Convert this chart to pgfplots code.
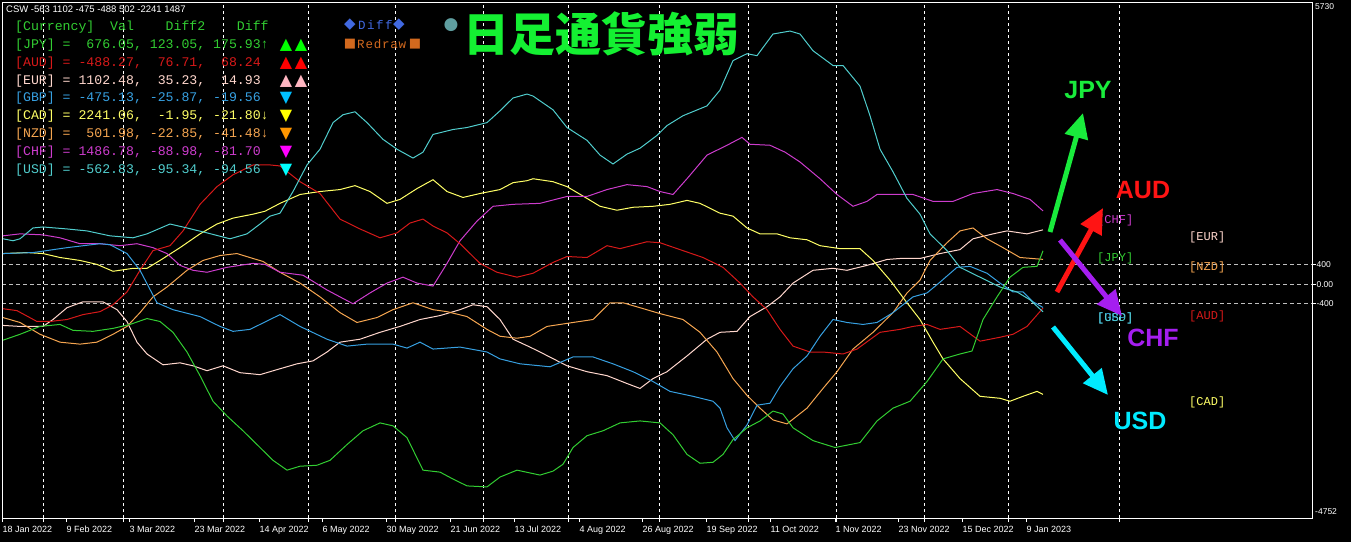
\documentclass[border=0pt]{standalone}
\usepackage{pgfplots}
\pgfplotsset{compat=1.18}
\usepackage{fontspec}
\setmainfont{Liberation Sans}
\newfontfamily\mono{Liberation Mono}
\newfontfamily\sym{DejaVu Sans}
\newfontfamily\cjk{Noto Sans CJK JP}
\usetikzlibrary{arrows.meta}

\definecolor{cJPY}{RGB}{50,205,50}
\definecolor{cAUD}{RGB}{215,25,25}
\definecolor{cEUR}{RGB}{255,215,205}
\definecolor{cGBP}{RGB}{55,160,225}
\definecolor{cCAD}{RGB}{255,255,102}
\definecolor{cNZD}{RGB}{245,165,80}
\definecolor{cCHF}{RGB}{205,60,205}
\definecolor{cUSD}{RGB}{80,205,205}
\definecolor{tJPY}{RGB}{0,255,0}
\definecolor{tAUD}{RGB}{255,0,0}
\definecolor{tEUR}{RGB}{255,182,193}
\definecolor{tGBP}{RGB}{0,191,255}
\definecolor{tCAD}{RGB}{255,255,0}
\definecolor{tNZD}{RGB}{255,150,0}
\definecolor{tCHF}{RGB}{255,0,255}
\definecolor{tUSD}{RGB}{0,255,255}
\definecolor{titlegreen}{RGB}{20,240,50}
\definecolor{aGreen}{RGB}{25,235,60}
\definecolor{aRed}{RGB}{255,20,20}
\definecolor{aPurple}{RGB}{165,30,240}
\definecolor{aCyan}{RGB}{0,235,255}
\definecolor{royal}{RGB}{65,105,225}
\definecolor{choco}{RGB}{210,105,30}
\definecolor{cadet}{RGB}{95,158,160}

\newcommand\legfont{\mono\fontsize{13.2}{14}\selectfont}
\newcommand\smallmono{\mono\fontsize{12}{13}\selectfont}
\newcommand\bigbold{\fontsize{25}{26}\selectfont\bfseries}

\begin{document}
\begin{tikzpicture}[x=1pt,y=1pt]
\fill[black] (0,0) rectangle (1351,542);
\useasboundingbox (0,0) rectangle (1351,542);
\begin{axis}[
  at={(2pt,24pt)}, anchor=south west,
  scale only axis, width=1310pt, height=516pt,
  xmin=2, xmax=1312, ymin=-4752, ymax=5730,
  axis line style={white, line width=0.8pt},
  tick align=outside, major tick length=4pt,
  tick style={white, line width=0.8pt},
  xtick pos=left,
  xtick={2,66,129,194,259,322,386,450,514,579,642,706,770,835,898,962,1026},
  xticklabels={18 Jan 2022,9 Feb 2022,3 Mar 2022,23 Mar 2022,14 Apr 2022,6 May 2022,30 May 2022,21 Jun 2022,13 Jul 2022,4 Aug 2022,26 Aug 2022,19 Sep 2022,11 Oct 2022,1 Nov 2022,23 Nov 2022,15 Dec 2022,9 Jan 2023},
  xticklabel style={anchor=north west, text=white, font=\fontsize{9}{10}\selectfont, text height=7pt, text depth=2pt, xshift=-3pt, yshift=0pt},
  extra x ticks={43,123,223,308,395,483,568,659,748,836,924,1008,1119},
  extra x tick labels={},
  extra x tick style={grid=major, major grid style={white, line width=0.8pt, dash pattern=on 3pt off 3pt}},
  ytick={-400,0,400}, yticklabels={-400,0.00,400},
  ytick pos=right, yticklabel pos=right,
  scaled y ticks=false,
  yticklabel style={text=white, font=\fontsize{8.5}{9}\selectfont, anchor=west, xshift=-3pt},
  ymajorgrids=true,
  major grid style={color=white!75!black, line width=0.8pt, dash pattern=on 4pt off 3pt},
  every axis plot/.append style={line width=1pt, mark=none},
]
% EUR
\addplot[cEUR] coordinates {(3,-840)(20,-860)(43,-860)(53,-720)(67,-480)(83,-360)(103,-360)(117,-520)(127,-760)(137,-1180)(147,-1420)(163,-1640)(180,-1600)(193,-1660)(207,-1760)(223,-1660)(240,-1800)(260,-1840)(280,-1720)(297,-1620)(313,-1560)(327,-1380)(340,-1180)(360,-1120)(380,-980)(400,-860)(420,-720)(440,-640)(460,-520)(473,-420)(487,-460)(500,-720)(513,-1120)(530,-1280)(540,-1380)(567,-1660)(587,-1780)(607,-1860)(627,-2020)(640,-2120)(653,-1920)(667,-1780)(687,-1460)(707,-1120)(720,-980)(737,-960)(750,-660)(767,-460)(780,-260)(793,20)(813,280)(833,320)(847,280)(867,380)(887,500)(900,520)(920,520)(940,620)(960,700)(973,920)(993,1020)(1007,1080)(1027,1020)(1043,1102)};
% NZD
\addplot[cNZD] coordinates {(3,-680)(20,-780)(40,-1020)(60,-1180)(80,-1220)(97,-1180)(113,-1020)(127,-860)(140,-580)(153,-260)(167,-60)(187,280)(203,480)(220,580)(237,620)(253,520)(263,460)(280,240)(300,20)(320,-260)(340,-580)(357,-780)(377,-680)(393,-520)(413,-380)(433,-520)(447,-560)(467,-660)(487,-920)(500,-1060)(517,-1100)(530,-1060)(547,-860)(573,-780)(593,-720)(610,-380)(623,-380)(640,-480)(660,-600)(683,-720)(700,-980)(717,-1380)(733,-1920)(747,-2260)(760,-2520)(773,-2760)(787,-2840)(807,-2520)(823,-2120)(837,-1780)(853,-1320)(873,-980)(893,-580)(907,-180)(920,80)(930,480)(947,840)(960,1080)(973,1140)(987,920)(1003,740)(1020,540)(1043,502)};
% CAD
\addplot[cCAD] coordinates {(3,620)(27,640)(43,620)(60,540)(80,480)(97,400)(113,260)(133,320)(147,320)(160,480)(180,740)(200,1020)(217,1220)(233,1340)(253,1420)(265,1480)(280,1640)(300,1820)(320,1880)(340,1920)(355,2000)(370,1880)(387,1640)(400,1720)(417,1940)(433,2120)(447,1880)(463,1760)(480,1840)(500,1920)(513,2060)(527,2100)(533,2140)(553,2080)(567,1980)(587,1740)(600,1580)(617,1500)(633,1560)(653,1580)(670,1620)(687,1700)(700,1640)(720,1440)(733,1380)(747,1140)(760,1020)(777,1020)(790,940)(807,900)(820,780)(840,720)(860,720)(873,480)(890,80)(907,-380)(920,-720)(933,-1180)(943,-1520)(960,-1920)(980,-2280)(1000,-2320)(1010,-2380)(1023,-2280)(1037,-2180)(1043,-2241)};
% CHF
\addplot[cCHF] coordinates {(3,980)(20,1020)(43,1000)(60,940)(80,820)(100,820)(120,780)(137,820)(153,740)(167,620)(180,380)(193,280)(207,240)(227,340)(253,420)(265,400)(280,240)(303,180)(327,-120)(340,-260)(353,-400)(370,-180)(387,20)(403,140)(417,20)(433,-40)(447,420)(460,880)(477,1280)(493,1580)(513,1620)(540,1640)(567,1780)(587,1780)(607,1920)(627,2020)(647,1980)(660,1880)(673,1820)(687,2140)(707,2620)(727,2820)(742,2980)(750,2840)(770,2820)(785,2680)(800,2480)(820,2140)(837,1820)(853,1580)(867,1680)(877,1820)(900,1820)(913,1820)(933,1680)(953,1680)(973,1840)(997,1920)(1013,1840)(1030,1720)(1043,1487)};
% AUD
\addplot[cAUD] coordinates {(3,-500)(17,-540)(37,-760)(50,-760)(67,-720)(83,-620)(100,-560)(113,-420)(127,-160)(140,280)(153,680)(170,780)(183,1080)(200,1620)(217,1980)(233,2220)(253,2420)(270,2420)(280,2400)(300,2080)(320,1840)(340,1320)(360,1120)(380,940)(397,1040)(410,1240)(423,1320)(433,1180)(447,1040)(460,820)(480,420)(497,240)(517,140)(533,220)(553,440)(567,560)(587,540)(607,780)(620,720)(647,860)(660,840)(680,700)(703,540)(723,340)(740,20)(753,-260)(767,-520)(780,-920)(793,-1260)(810,-1380)(823,-1380)(843,-1420)(857,-1320)(880,-980)(900,-920)(913,-860)(927,-820)(940,-920)(960,-860)(980,-1160)(1000,-1080)(1013,-1020)(1027,-860)(1043,-488)};
% GBP
\addplot[cGBP] coordinates {(3,620)(33,640)(67,740)(100,820)(110,800)(127,620)(140,280)(157,-380)(173,-520)(200,-660)(220,-860)(233,-960)(250,-920)(270,-720)(280,-620)(300,-860)(327,-1120)(347,-1260)(367,-1220)(393,-1220)(407,-1300)(420,-1180)(433,-1320)(460,-1280)(487,-1380)(500,-1520)(520,-1620)(550,-1680)(573,-1480)(593,-1480)(613,-1620)(633,-1780)(653,-1980)(670,-2180)(693,-2280)(713,-2380)(720,-2520)(727,-2920)(735,-3180)(747,-2860)(757,-2460)(770,-2420)(780,-2080)(793,-1720)(807,-1460)(820,-1060)(833,-720)(847,-780)(863,-820)(877,-780)(893,-580)(913,-260)(927,-180)(940,40)(957,340)(970,360)(987,220)(1000,20)(1013,-160)(1023,-160)(1033,-360)(1043,-475)};
% USD
\addplot[cUSD] coordinates {(3,920)(13,880)(20,920)(33,1140)(43,1160)(67,1120)(87,1080)(110,980)(133,940)(147,1020)(170,1220)(187,1140)(207,1040)(230,920)(247,1020)(260,1220)(270,1380)(280,1440)(293,1880)(307,2420)(320,2740)(333,3280)(343,3440)(355,3500)(367,3280)(383,2940)(397,2740)(413,2560)(423,2680)(433,3040)(453,3140)(467,3180)(487,3280)(500,3520)(513,3780)(527,3860)(533,3820)(553,3540)(567,3180)(587,2920)(600,2620)(613,2440)(627,2640)(640,2760)(657,3020)(667,3220)(683,3420)(707,3620)(720,3940)(733,4540)(747,4680)(757,4640)(773,5080)(790,5140)(800,5080)(813,4740)(833,4440)(843,4440)(860,4020)(870,3420)(880,2740)(893,2280)(907,1740)(920,1420)(930,1020)(947,680)(960,340)(980,140)(1000,-60)(1017,-160)(1030,-320)(1043,-563)};
% JPY
\addplot[cJPY] coordinates {(3,-1140)(20,-1020)(40,-860)(60,-820)(73,-940)(93,-960)(113,-900)(130,-820)(147,-700)(160,-760)(173,-980)(187,-1380)(200,-1860)(213,-2380)(227,-2680)(243,-2980)(260,-3320)(273,-3580)(287,-3780)(300,-3700)(317,-3680)(330,-3580)(347,-3260)(363,-2980)(380,-2820)(393,-2880)(407,-3120)(423,-3780)(440,-3820)(453,-3960)(467,-4100)(487,-4120)(500,-3920)(517,-3780)(540,-3880)(553,-3800)(563,-3660)(573,-3320)(587,-3080)(603,-2980)(620,-2820)(640,-2780)(660,-2820)(673,-3060)(687,-3460)(700,-3640)(713,-3620)(723,-3460)(733,-3160)(747,-2920)(760,-2780)(773,-2580)(783,-2640)(793,-2920)(813,-3180)(835,-3320)(850,-3260)(860,-3220)(877,-2780)(893,-2520)(910,-2380)(927,-1980)(943,-1520)(960,-1420)(972,-1360)(983,-720)(997,-260)(1010,140)(1023,340)(1037,360)(1043,676)};
\end{axis}

% right-edge extreme labels
\node[anchor=west, text=white, inner sep=0, font=\fontsize{8.5}{9}\selectfont] at (1315,535) {5730};
\node[anchor=west, text=white, inner sep=0, font=\fontsize{8.5}{9}\selectfont] at (1315,30) {-4752};

% header line
\node[anchor=west, text=white, inner sep=0, font=\fontsize{9.5}{10}\selectfont] at (6,533) {CSW -563 1102 -475 -488 502 -2241 1487};

% legend table
\node[anchor=west, inner sep=0, text=cJPY] at (15,515) {\legfont [Currency]~~Val~~~~Diff2~~~~Diff};
\node[anchor=west, inner sep=0, text=cJPY] at (15,497) {\legfont [JPY]~=~~676.05,~123.05,~175.93↑};
\node[anchor=west, inner sep=0, text=cAUD] at (15,479) {\legfont [AUD]~=~-488.27,~~76.71,~~68.24};
\node[anchor=west, inner sep=0, text=cEUR] at (15,461) {\legfont [EUR]~=~1102.48,~~35.23,~~14.93};
\node[anchor=west, inner sep=0, text=cGBP] at (15,444) {\legfont [GBP]~=~-475.13,~-25.87,~-19.56};
\node[anchor=west, inner sep=0, text=cCAD] at (15,426) {\legfont [CAD]~=~2241.06,~~-1.95,~-21.80↓};
\node[anchor=west, inner sep=0, text=cNZD] at (15,408) {\legfont [NZD]~=~~501.98,~-22.85,~-41.48↓};
\node[anchor=west, inner sep=0, text=cCHF] at (15,390) {\legfont [CHF]~=~1486.78,~-88.98,~-81.70};
\node[anchor=west, inner sep=0, text=cUSD] at (15,372) {\legfont [USD]~=~-562.83,~-95.34,~-94.56};

% triangles
\tikzset{tri/.style={inner sep=0, font=\sym\fontsize{16}{16}\selectfont}}
\node[tri, text=tJPY] at (286,497) {▲};
\node[tri, text=tJPY] at (301,497) {▲};
\node[tri, text=tAUD] at (286,479) {▲};
\node[tri, text=tAUD] at (301,479) {▲};
\node[tri, text=tEUR] at (286,461) {▲};
\node[tri, text=tEUR] at (301,461) {▲};
\node[tri, text=tGBP] at (286,444) {▼};
\node[tri, text=tCAD] at (286,426) {▼};
\node[tri, text=tNZD] at (286,408) {▼};
\node[tri, text=tCHF] at (286,390) {▼};
\node[tri, text=tUSD] at (286,372) {▼};

% buttons
\node[inner sep=0, text=royal, font=\sym\fontsize{15}{15}\selectfont] at (350,517) {◆};
\node[anchor=west, inner sep=0, text=royal] at (358,517) {\mono\fontsize{12.5}{13}\selectfont D\kern1.5pt i\kern1.5pt f\kern1.5pt f};
\node[inner sep=0, text=royal, font=\sym\fontsize{15}{15}\selectfont] at (399,517) {◆};
\node[inner sep=0, text=choco, font=\sym\fontsize{13}{13}\selectfont] at (350,498) {■};
\node[anchor=west, inner sep=0, text=choco] at (357,498) {\mono\fontsize{12.5}{13}\selectfont R\kern0.8pt e\kern0.8pt d\kern0.8pt r\kern0.8pt a\kern0.8pt w};
\node[inner sep=0, text=choco, font=\sym\fontsize{13}{13}\selectfont] at (415,498) {■};
\node[inner sep=0, text=cadet, font=\sym\fontsize{17}{17}\selectfont] at (451,517) {●};

% title
\node[anchor=west, inner sep=0, text=titlegreen] at (463,508) {\cjk\bfseries\fontsize{46}{48}\selectfont 日足通貨強弱};

% small right labels
\node[anchor=west, inner sep=0, text=cCHF] at (1097,322) {\smallmono [CHF]};
\node[anchor=west, inner sep=0, text=cJPY] at (1097,284) {\smallmono [JPY]};
\node[anchor=west, inner sep=0, text=cGBP] at (1097,224) {\smallmono [GBP]};
\node[anchor=west, inner sep=0, text=cUSD] at (1097,224) {\smallmono [USD]};
\node[anchor=west, inner sep=0, text=cEUR] at (1189,305) {\smallmono [EUR]};
\node[anchor=west, inner sep=0, text=cNZD] at (1189,275) {\smallmono [NZD]};
\node[anchor=west, inner sep=0, text=cAUD] at (1189,226) {\smallmono [AUD]};
\node[anchor=west, inner sep=0, text=cCAD] at (1189,140) {\smallmono [CAD]};

% arrows
\tikzset{bigarrow/.style={line width=5pt, -{Triangle[length=25pt,width=23pt]}}}
\draw[bigarrow, aGreen] (1050,310) -- (1083,429);
\draw[bigarrow, aRed] (1057,250) -- (1103,334);
\draw[bigarrow, aPurple] (1060,302) -- (1122,226);
\draw[bigarrow, aCyan] (1053,215) -- (1108,147);

% big labels
\node[inner sep=0, text=aGreen] at (1088,452) {\bigbold JPY};
\node[inner sep=0, text=aRed] at (1143,352) {\bigbold AUD};
\node[inner sep=0, text=aPurple] at (1153,204) {\bigbold CHF};
\node[inner sep=0, text=aCyan] at (1140,121) {\bigbold USD};
\end{tikzpicture}
\end{document}
